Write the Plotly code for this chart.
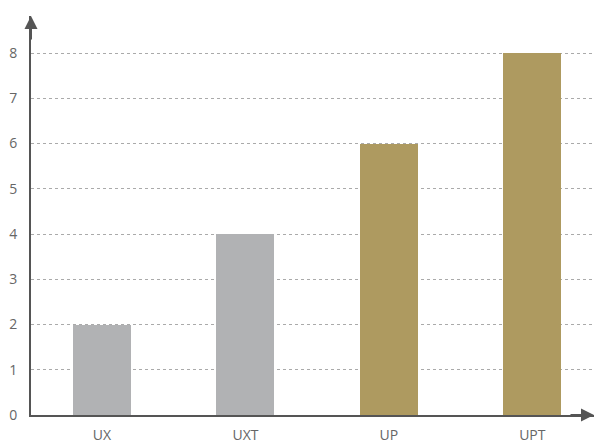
import plotly.graph_objects as go

categories = ["UX", "UXT", "UP", "UPT"]
values = [2, 4, 6, 8]
colors = ["#b1b2b4", "#b1b2b4", "#ae9a60", "#ae9a60"]

xpos = list(range(len(categories)))

fig = go.Figure(go.Bar(x=xpos, y=values, marker=dict(color=colors, line=dict(width=0)),
                       width=0.405))

axis_col = "#555555"
fig.update_layout(
    width=597, height=444,
    margin=dict(l=31, r=3, t=16, b=29, autoexpand=False),
    plot_bgcolor="white", paper_bgcolor="white",
    showlegend=False,
    font=dict(family="Open Sans", size=14, color="#666666"),
    xaxis=dict(range=[-0.495, 3.43], tickvals=xpos, ticktext=categories,
               showgrid=False, zeroline=False, showline=True, linecolor=axis_col,
               linewidth=2, ticks="", ticklabelstandoff=6, automargin=False),
    yaxis=dict(range=[0, 8.82], tickvals=list(range(0, 9)), showgrid=True,
               gridcolor="#aaaaaa", griddash="3px,3px", gridwidth=1,
               zeroline=False, showline=True, linecolor=axis_col, linewidth=2,
               ticks="", ticklabelstandoff=9, automargin=False),
    bargap=0,
)

fig.add_annotation(xref="paper", yref="paper", x=0, y=1, ax=0, ay=25,
                   showarrow=True, arrowhead=2, arrowsize=1.3, arrowwidth=2,
                   arrowcolor=axis_col, text="")
fig.add_annotation(xref="paper", yref="paper", x=1.0, y=0, ax=-25, ay=0,
                   showarrow=True, arrowhead=2, arrowsize=1.3, arrowwidth=2,
                   arrowcolor=axis_col, text="")

fig.write_html("out.html", config={"displayModeBar": False},
               post_script="document.body.style.margin='0';document.body.style.overflow='hidden';")
